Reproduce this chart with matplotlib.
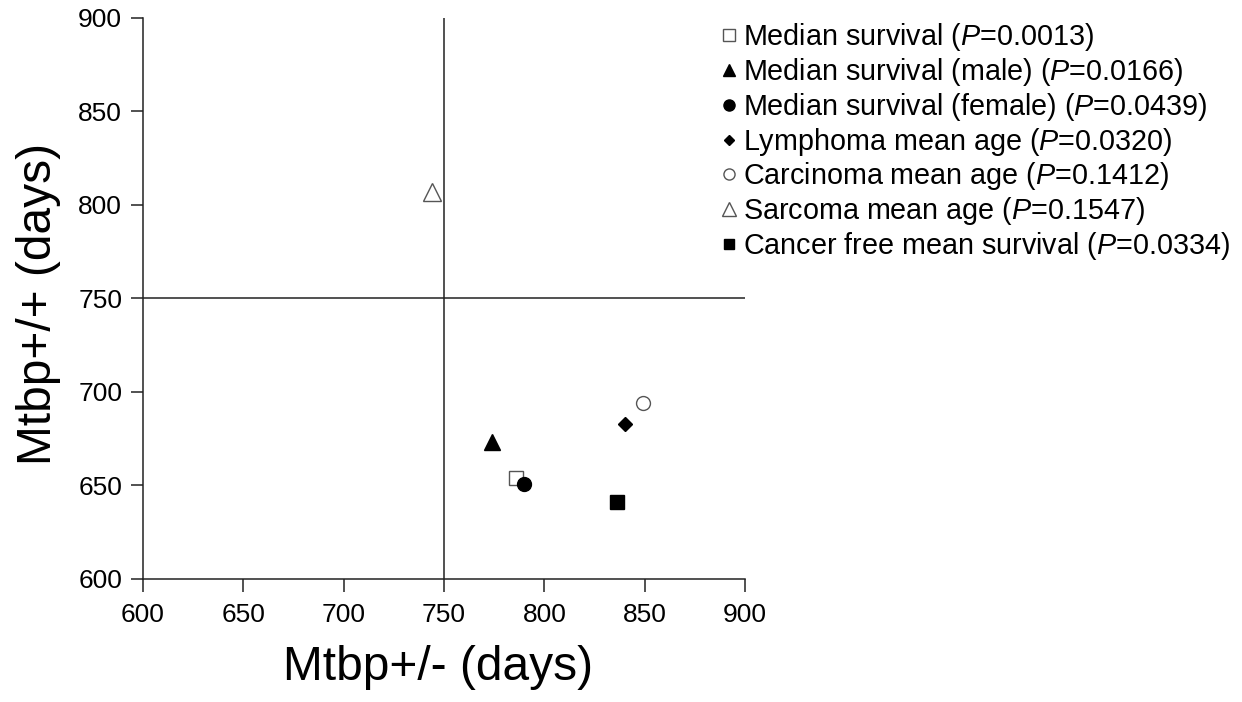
import matplotlib
matplotlib.use('Agg')
import matplotlib.pyplot as plt
from matplotlib.lines import Line2D

plt.rcParams['font.family'] = ['Liberation Sans', 'DejaVu Sans']
plt.rcParams['mathtext.fontset'] = 'custom'
plt.rcParams['mathtext.rm'] = 'Liberation Sans'
plt.rcParams['mathtext.it'] = 'Liberation Sans:italic'

# mean / median ages in days, Mtbp+/- (x) vs Mtbp+/+ (y)
labels = [
    "Median survival",
    "Median survival (male)",
    "Median survival (female)",
    "Lymphoma mean age",
    "Carcinoma mean age",
    "Sarcoma mean age",
    "Cancer free mean survival",
]
p_values = ["0.0013", "0.0166", "0.0439", "0.0320", "0.1412", "0.1547", "0.0334"]
het_days = [786, 774, 790, 840, 849, 744, 836]
wt_days = [654, 673, 651, 683, 694, 807, 641]

markers = ['s', '^', 'o', 'D', 'o', '^', 's']
filled = [False, True, True, True, False, False, True]
sizes = [10, 11, 10, 7, 10, 13, 9.5]

ticks = [600, 650, 700, 750, 800, 850, 900]

fig = plt.figure(figsize=(12.42, 7.02), dpi=100)
ax = fig.add_axes([143 / 1242, 123 / 702, 602 / 1242, 561 / 702])

ax.axvline(750, color='#222222', lw=1.1, zorder=1)
ax.axhline(750, color='#222222', lw=1.1, zorder=1)

handles = []
for i in range(len(labels)):
    face = 'black' if filled[i] else 'white'
    edge = 'black' if filled[i] else '#555555'
    ax.plot(het_days[i], wt_days[i], linestyle='none', marker=markers[i],
            markersize=sizes[i], markerfacecolor=face, markeredgecolor=edge,
            markeredgewidth=1.0, zorder=3)
    handles.append(Line2D([], [], linestyle='none', marker=markers[i],
                          markersize=sizes[i] * 0.8, markerfacecolor=face,
                          markeredgecolor=edge, markeredgewidth=1.0,
                          label=f"{labels[i]} ($\\it{{P}}$={p_values[i]})"))

ax.set_xlim(600, 900)
ax.set_ylim(600, 900)
ax.set_xticks(ticks)
ax.set_yticks(ticks)
ax.tick_params(axis='both', labelsize=19, length=9, width=1.1, color='#222222',
               direction='out')
ax.tick_params(axis='x', pad=8)
ax.tick_params(axis='y', pad=6)
for side in ['top', 'right']:
    ax.spines[side].set_visible(False)
for side in ['left', 'bottom']:
    ax.spines[side].set_linewidth(1.1)
    ax.spines[side].set_color('#222222')

ax.set_xlabel("Mtbp+/- (days)", fontsize=34.5, labelpad=15)
ax.set_ylabel("Mtbp+/+ (days)", fontsize=34.5, labelpad=12)
ax.xaxis.set_label_coords(0.49, -0.118)
ax.yaxis.label.set_y(0.49)

fig.legend(handles=handles, loc='upper left', bbox_to_anchor=(720 / 1242, 1 - 21 / 702),
           frameon=False, fontsize=20.7, handlelength=0.6, handletextpad=0.2,
           labelspacing=0.1, borderaxespad=0, borderpad=0)

fig.savefig('out.png', dpi=100)
